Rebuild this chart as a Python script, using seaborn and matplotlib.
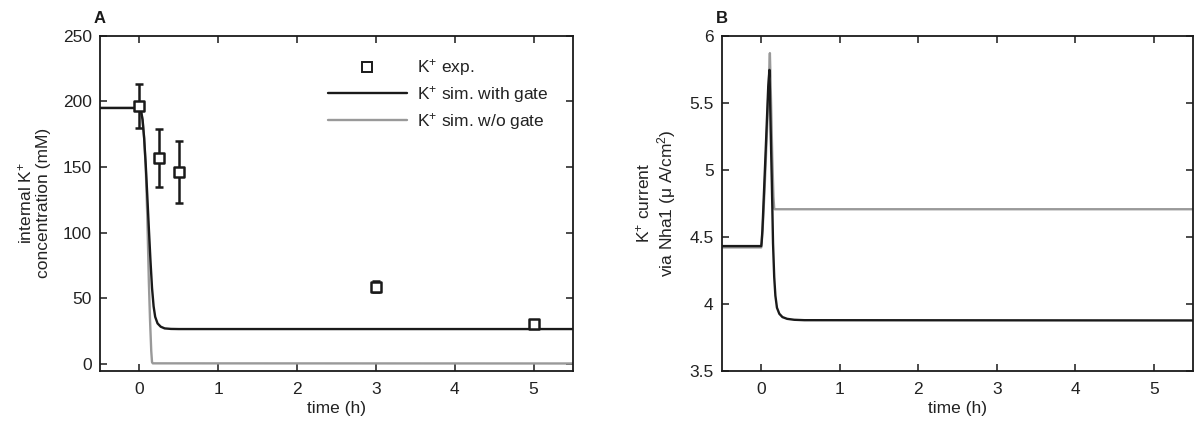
import numpy as np
import pandas as pd
import matplotlib
matplotlib.use("Agg")
import matplotlib.pyplot as plt
import seaborn as sns
from matplotlib.lines import Line2D

# ---------------- data ----------------
# Panel A: experimental K+ points
exp_t = [0.0, 0.25, 0.5, 3.0, 5.0]
exp_v = [196.5, 157.0, 146.5, 59.0, 30.5]
exp_err = [17.0, 22.0, 23.5, 4.0, 2.0]

# Panel A: simulated internal K+ with gate (black)
a_gate_t = [-0.5, 0.0, 0.02, 0.04, 0.06, 0.08, 0.10, 0.12, 0.14, 0.16, 0.18,
            0.20, 0.23, 0.27, 0.32, 0.40, 0.50, 5.5]
a_gate_v = [195, 195, 193, 186, 172, 152, 128, 103, 79, 58, 44,
            36, 31, 28.5, 27.2, 26.8, 26.7, 26.7]

# Panel A: simulated internal K+ without gate (grey)
a_nogate_t = [-0.5, 0.0, 0.02, 0.04, 0.06, 0.08, 0.10, 0.12, 0.135, 0.15, 0.16, 0.17, 5.5]
a_nogate_v = [195, 195, 193, 186, 172, 150, 112, 62, 33, 10, 1.5, 0.6, 0.5]

# Panel B: K+ current via Nha1 with gate (black)
b_gate_t = [-0.5, 0.0, 0.005, 0.015, 0.02, 0.055, 0.089, 0.105, 0.12, 0.135, 0.15,
            0.165, 0.18, 0.20, 0.23, 0.27, 0.33, 0.42, 0.55, 5.5]
b_gate_v = [4.43, 4.43, 4.46, 4.55, 4.62, 5.12, 5.62, 5.745, 5.30, 4.90, 4.45,
            4.20, 4.06, 3.97, 3.925, 3.90, 3.887, 3.88, 3.877, 3.875]

# Panel B: K+ current via Nha1 without gate (grey)
b_nogate_t = [-0.5, 0.0, 0.005, 0.02, 0.04, 0.06, 0.08, 0.10, 0.11, 0.125, 0.14,
              0.155, 0.165, 0.17, 5.5]
b_nogate_v = [4.42, 4.42, 4.45, 4.58, 4.82, 5.10, 5.40, 5.72, 5.87, 5.50, 5.10,
              4.80, 4.71, 4.705, 4.705]

legend_labels = ["K$^{+}$ exp.", "K$^{+}$ sim. with gate", "K$^{+}$ sim. w/o gate"]

# ---------------- style ----------------
sns.set_style("ticks")
plt.rcParams["font.family"] = ["Liberation Sans", "DejaVu Sans"]
plt.rcParams["mathtext.fontset"] = "custom"
plt.rcParams["mathtext.rm"] = "Liberation Sans"
plt.rcParams["mathtext.it"] = "Liberation Sans:italic"
plt.rcParams["mathtext.default"] = "regular"
FS = 12.5
BLACK = "#1a1a1a"
GREY = "#999999"
TXT = "#222222"
LW = 1.7

W, H = 1195, 428
fig = plt.figure(figsize=(W / 100, H / 100), dpi=100)

top_px, bot_px = 35.7, 370.7
axA = fig.add_axes([100 / W, 1 - bot_px / H, 473 / W, (bot_px - top_px) / H])
axB = fig.add_axes([722 / W, 1 - bot_px / H, 471 / W, (bot_px - top_px) / H])


def style_axes(ax):
    for s in ax.spines.values():
        s.set_linewidth(1.3)
        s.set_color(BLACK)
        s.set_visible(True)
    ax.tick_params(direction="in", top=True, right=True, length=5, width=1.1,
                   labelsize=FS, colors=BLACK, labelcolor=TXT)
    ax.tick_params(axis="y", pad=6)
    ax.tick_params(axis="x", pad=8)
    ax.set_xlim(-0.5, 5.5)
    ax.set_xticks([0, 1, 2, 3, 4, 5])
    ax.set_xlabel("time (h)", fontsize=FS, color=TXT, labelpad=3)


# ---- Panel A ----
dfA1 = pd.DataFrame({"t": a_nogate_t, "v": a_nogate_v})
dfA2 = pd.DataFrame({"t": a_gate_t, "v": a_gate_v})
sns.lineplot(data=dfA1, x="t", y="v", ax=axA, color=GREY, lw=LW, estimator=None, sort=False)
sns.lineplot(data=dfA2, x="t", y="v", ax=axA, color=BLACK, lw=LW, estimator=None, sort=False)
axA.errorbar(exp_t, exp_v, yerr=exp_err, fmt="none", ecolor=BLACK, elinewidth=1.8,
             capsize=3.2, capthick=1.8, zorder=4)
sns.scatterplot(x=exp_t, y=exp_v, ax=axA, marker="s", s=55, facecolor="white",
                edgecolor=BLACK, linewidth=1.8, zorder=5)
style_axes(axA)
axA.set_ylim(-5, 250)
axA.set_yticks([0, 50, 100, 150, 200, 250])
axA.set_ylabel("internal K$^{+}$\nconcentration (mM)", fontsize=FS, color=TXT, labelpad=8)

handles = [
    Line2D([], [], ls="none", marker="s", markersize=6.5, markerfacecolor="white",
           markeredgecolor=BLACK, markeredgewidth=1.4),
    Line2D([], [], color=BLACK, lw=LW),
    Line2D([], [], color=GREY, lw=LW),
]
axA.legend(handles, legend_labels, loc="upper left", bbox_to_anchor=(0.482, 0.935),
           frameon=False, fontsize=FS, handlelength=4.55, handletextpad=0.57,
           labelspacing=0.33, borderaxespad=0, borderpad=0, labelcolor=TXT)
axA.text(0.0, 1.0 + (top_px - 23) / (bot_px - top_px), "A", transform=axA.transAxes,
         ha="center", va="baseline", fontsize=FS - 0.5, fontweight="bold", color=BLACK)

# ---- Panel B ----
dfB1 = pd.DataFrame({"t": b_nogate_t, "v": b_nogate_v})
dfB2 = pd.DataFrame({"t": b_gate_t, "v": b_gate_v})
sns.lineplot(data=dfB1, x="t", y="v", ax=axB, color=GREY, lw=LW, estimator=None, sort=False)
sns.lineplot(data=dfB2, x="t", y="v", ax=axB, color=BLACK, lw=LW, estimator=None, sort=False)
style_axes(axB)
axB.set_ylim(3.5, 6)
axB.set_yticks([3.5, 4, 4.5, 5, 5.5, 6])
axB.set_yticklabels(["3.5", "4", "4.5", "5", "5.5", "6"])
axB.set_ylabel("K$^{+}$ current\nvia Nha1 ($\\mu$ A/cm$^{2}$)", fontsize=FS, color=TXT, labelpad=8)
axB.text(0.0, 1.0 + (top_px - 23) / (bot_px - top_px), "B", transform=axB.transAxes,
         ha="center", va="baseline", fontsize=FS - 0.5, fontweight="bold", color=BLACK)

fig.savefig("out.png", dpi=100)
